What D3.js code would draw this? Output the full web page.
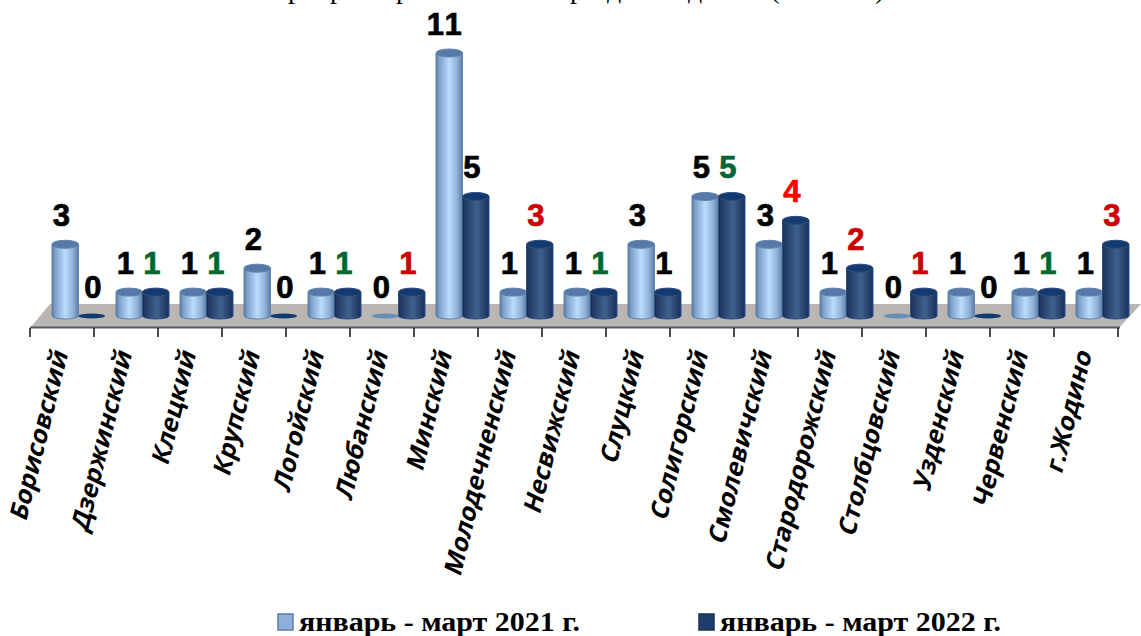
<!DOCTYPE html>
<html>
<head>
<meta charset="utf-8">
<script src="https://cdn.jsdelivr.net/npm/d3@7"></script>
<style>
  html, body { margin: 0; padding: 0; background: #fff; overflow: hidden; }
</style>
</head>
<body>
<div id="wrapper"></div>
<script>
const categories = ["Борисовский","Дзержинский","Клецкий","Крупский","Логойский","Любанский","Минский","Молодечненский","Несвижский","Слуцкий","Солигорский","Смолевичский","Стародорожский","Столбцовский","Узденский","Червенский","г.Жодино"];
const values2021 = [3,1,1,2,1,0,11,1,1,3,5,3,1,0,1,1,1];
const values2022 = [0,1,1,0,1,1,5,3,1,1,5,4,2,1,0,1,3];
const seriesNames = ["январь - март 2021 г.","январь - март 2022 г."];
// the title is cut off by the top edge of the picture, only these glyph bottoms can be seen
const titleGlyphs = ["р","р","р","р","д","д","(",")"];
const titleGlyphX = [295,337,403,577,614,695,775,880];

const dimensions = { width: 1141, height: 636 };
const axisLeft = 30, axisRight = 1118, floorFront = 328, floorBack = 304;
const barWidth = 26.5, ry = 4;

const wrapper = d3.select("#wrapper").append("svg")
  .attr("width", dimensions.width)
  .attr("height", dimensions.height)
  .style("display", "block");

const defs = wrapper.append("defs");
function gradient(id, stops) {
  const g = defs.append("linearGradient").attr("id", id);
  stops.forEach(s => g.append("stop").attr("offset", s[0]).attr("stop-color", s[1]));
}
gradient("light", [[0,"#58799f"],[0.12,"#7c9fc8"],[0.5,"#bcdcfb"],[0.78,"#92b4da"],[1,"#5d7da6"]]);
gradient("dark", [[0,"#17335a"],[0.2,"#26456f"],[0.55,"#41618d"],[0.8,"#27466f"],[1,"#17325a"]]);

const xScale = d3.scaleBand().domain(categories).range([axisLeft, axisRight]);
const inner = d3.scaleBand().domain([0, 1]).range([0, barWidth * 2]);
const yScale = d3.scaleLinear().domain([0, 11]).range([316, 53]);
const groupX = c => xScale(c) + xScale.bandwidth() / 2 + 16.5 - barWidth;

// floor
wrapper.append("polygon")
  .attr("points", [[axisLeft, floorFront], [axisLeft + 20, floorBack], [1141, floorBack], [axisRight + 1, floorFront]].join(" "))
  .attr("fill", "#b9b6b4");
wrapper.append("line")
  .attr("x1", axisLeft).attr("x2", axisRight + 2)
  .attr("y1", floorFront - 0.5).attr("y2", floorFront - 0.5)
  .attr("stroke", "#55585c").attr("stroke-width", 2);

// ticks sit on the edges of the bands
wrapper.append("g").selectAll("line")
  .data(d3.range(categories.length + 1))
  .enter().append("line")
  .attr("x1", i => axisLeft + i * xScale.step())
  .attr("x2", i => axisLeft + i * xScale.step())
  .attr("y1", floorFront).attr("y2", 337)
  .attr("stroke", "#111").attr("stroke-width", 1.5);

function cylinder(x, top) {
  const w = barWidth, b = yScale(0);
  return `M${x},${top}V${b}A${w/2},${ry - 1} 0 0 0 ${x+w},${b}V${top}Z`;
}

const rows = [
  { key: 0, values: values2021, fill: "url(#light)", stroke: "#5f83b0", cap: "#5679a8", flat: "#6a8db3" },
  { key: 1, values: values2022, fill: "url(#dark)", stroke: "#2c4f80", cap: "#143a6e", flat: "#123c6e" }
];

rows.forEach(row => {
  const g = wrapper.append("g");
  const data = categories.map((c, i) => ({ c, v: row.values[i], x: groupX(c) + inner(row.key) }));
  g.selectAll("path")
    .data(data.filter(d => d.v > 0))
    .enter().append("path")
    .attr("d", d => cylinder(d.x, yScale(d.v)))
    .attr("fill", row.fill)
    .attr("stroke", row.stroke)
    .attr("stroke-width", 1);
  g.selectAll("ellipse")
    .data(data)
    .enter().append("ellipse")
    .attr("cx", d => d.x + barWidth / 2)
    .attr("cy", d => yScale(d.v))
    .attr("rx", barWidth / 2)
    .attr("ry", d => d.v > 0 ? ry : 2.5)
    .attr("fill", d => d.v > 0 ? row.cap : row.flat)
    .attr("stroke", d => d.v > 0 ? row.stroke : "none")
    .attr("stroke-width", 1);
});

// value labels: 2022 is coloured by how it compares with 2021
function deltaColor(a, b) {
  if (b === a) return "#006633";
  if (b < a) return "#000";
  return b === 4 ? "#ff0000" : "#cc0000";
}
rows.forEach(row => {
  wrapper.append("g").selectAll("text")
    .data(categories.map((c, i) => ({ c, i, v: row.values[i] })))
    .enter().append("text")
    .attr("x", d => groupX(d.c) + inner(row.key) + barWidth / 2 + (row.key ? (d.v === 0 ? 1 : -4) : -4))
    .attr("y", d => yScale(d.v) - 18)
    .attr("text-anchor", "middle")
    .attr("font-family", "Liberation Sans")
    .attr("font-weight", "bold")
    .attr("font-size", 31)
    .attr("letter-spacing", d => d.v > 9 ? 2 : 0)
    .attr("fill", d => row.key ? deltaColor(values2021[d.i], d.v) : "#000")
    .attr("stroke", d => row.key ? deltaColor(values2021[d.i], d.v) : "#000")
    .attr("stroke-width", 0.7)
    .text(d => d.v);
});

// category labels
wrapper.append("g").selectAll("text")
  .data(categories)
  .enter().append("text")
  .attr("transform", c => `translate(${xScale(c) + xScale.bandwidth() / 2 + 6},354) rotate(-76) skewX(-12)`)
  .attr("text-anchor", "end")
  .attr("font-family", "Open Sans")
  .attr("font-weight", "bold")
  .attr("font-size", 25)
  .attr("fill", "#000")
  .text(c => c);

// title remains
wrapper.append("g").selectAll("text")
  .data(titleGlyphs)
  .enter().append("text")
  .attr("x", (d, i) => titleGlyphX[i])
  .attr("y", -2.5)
  .attr("text-anchor", "middle")
  .attr("font-family", "Liberation Serif")
  .attr("font-size", 28)
  .attr("fill", "#000")
  .text(d => d);

// legend
const legendX = [278, 699];
const legendFill = ["#8eaedb", "#1f3d6b"];
const legendStroke = ["#5f7fa8", "#1a3358"];
const legend = wrapper.append("g").selectAll("g")
  .data(seriesNames)
  .enter().append("g")
  .attr("transform", (d, i) => `translate(${legendX[i]},0)`);
legend.append("rect")
  .attr("x", 0).attr("y", 614).attr("width", 15).attr("height", 16)
  .attr("fill", (d, i) => legendFill[i])
  .attr("stroke", (d, i) => legendStroke[i]).attr("stroke-width", 1.5);
legend.append("text")
  .attr("x", 21).attr("y", 631)
  .attr("font-family", "Liberation Serif")
  .attr("font-weight", "bold")
  .attr("font-size", 27)
  .attr("textLength", 281)
  .attr("lengthAdjust", "spacingAndGlyphs")
  .attr("fill", "#000")
  .text(d => d);
</script>
</body>
</html>
